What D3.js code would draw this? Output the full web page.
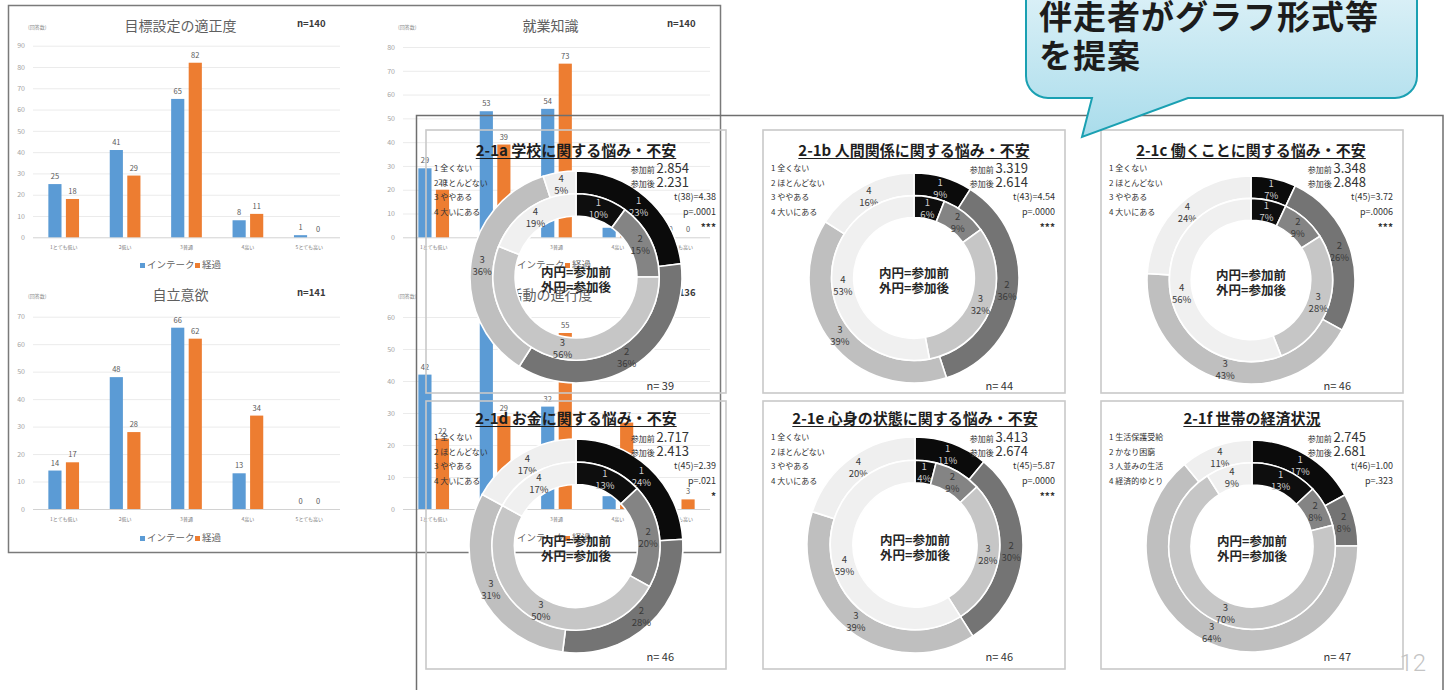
<!DOCTYPE html>
<html>
<head>
<meta charset="utf-8">
<script src="https://cdn.jsdelivr.net/npm/d3@7"></script>
<style>
  html, body { margin: 0; padding: 0; background: #fff; overflow: hidden; }
  svg { display: block; font-family: "Noto Sans CJK JP", "Noto Sans", sans-serif; }
</style>
</head>
<body>
<svg id="sheet" width="1445" height="690"></svg>
<script>
// ---------- bar charts: counts per answer category ----------
const barCategories = ["1とても低い", "2低い", "3普通", "4高い", "5とても高い"];
const barSeries = ["インテーク", "経過"];

const goalIntake = [25, 41, 65, 8, 1];
const goalLater  = [18, 29, 82, 11, 0];
const goalTicks  = [0, 10, 20, 30, 40, 50, 60, 70, 80, 90];

const knowIntake = [29, 53, 54, 4, 0];
const knowLater  = [20, 39, 73, 8, 0];
const knowTicks  = [0, 10, 20, 30, 40, 50, 60, 70, 80];

const selfIntake = [14, 48, 66, 13, 0];
const selfLater  = [17, 28, 62, 34, 0];
const selfTicks  = [0, 10, 20, 30, 40, 50, 60, 70];

const actIntake = [42, 58, 32, 4, 0];
const actLater  = [22, 29, 55, 27, 3];
const actTicks  = [0, 10, 20, 30, 40, 50, 60];

// ---------- doughnut charts: % before (inner) and after (outer) ----------
const worryLevels = ["1 全くない", "2 ほとんどない", "3 ややある", "4 大いにある"];
const moneyLevels = ["1 生活保護受給", "2 かなり困窮", "3 人並みの生活", "4 経済的ゆとり"];
const levelCodes  = ["1", "2", "3", "4"];

const donutTitles = [
  "2-1a 学校に関する悩み・不安",
  "2-1b 人間関係に関する悩み・不安",
  "2-1c 働くことに関する悩み・不安",
  "2-1d お金に関する悩み・不安",
  "2-1e 心身の状態に関する悩み・不安",
  "2-1f 世帯の経済状況"
];
const beforePct = [
  [10, 15, 56, 19],
  [6, 9, 32, 53],
  [7, 9, 28, 56],
  [13, 20, 50, 17],
  [4, 9, 28, 59],
  [13, 8, 70, 9]
];
const afterPct = [
  [23, 36, 36, 5],
  [9, 36, 39, 16],
  [7, 26, 43, 24],
  [24, 28, 31, 17],
  [11, 30, 39, 20],
  [17, 8, 64, 11]
];
const meanBefore = ["2.854", "3.319", "3.348", "2.717", "3.413", "2.745"];
const meanAfter  = ["2.231", "2.614", "2.848", "2.413", "2.674", "2.681"];
const tStats     = ["t(38)=4.38", "t(43)=4.54", "t(45)=3.72", "t(45)=2.39", "t(45)=5.87", "t(46)=1.00"];
const pValues    = ["p=.0001", "p=.0000", "p=.0006", "p=.021", "p=.0000", "p=.323"];
const stars      = ["***", "***", "***", "*", "***", ""];
const sampleN    = [39, 44, 46, 46, 46, 47];

const calloutLines = ["伴走者がグラフ形式等", "を提案"];
const pageNumber = "12";

// ---------- drawing ----------
const svg = d3.select("#sheet");
svg.append("rect").attr("width", 1445).attr("height", 690).attr("fill", "#fff");

const BLUE = "#5b9bd5", ORANGE = "#ed7d31";

const barCharts = [
  { title: "目標設定の適正度", n: "n=140", a: goalIntake, b: goalLater, ticks: goalTicks, dx: 0,   top: 45.7,  base: 237.3, titleY: 31,  legendY: 268 },
  { title: "就業知識",         n: "n=140", a: knowIntake, b: knowLater, ticks: knowTicks, dx: 370, top: 47,    base: 237.3, titleY: 31,  legendY: 268 },
  { title: "自立意欲",         n: "n=141", a: selfIntake, b: selfLater, ticks: selfTicks, dx: 0,   top: 316.7, base: 509,   titleY: 300, legendY: 541 },
  { title: "活動の進行度",     n: "n=136", a: actIntake,  b: actLater,  ticks: actTicks,  dx: 370, top: 317,   base: 509,   titleY: 300, legendY: 541 }
];

const barLayer = svg.append("g");

barCharts.forEach(c => {
  const g = barLayer.append("g");
  const x0 = 33 + c.dx, x1 = 340 + c.dx;
  const y = d3.scaleLinear().domain([0, d3.max(c.ticks)]).range([c.base, c.top]);
  const xb = d3.scaleBand().domain(barCategories).range([x0, x1]).paddingInner(0.5).paddingOuter(0.25);
  const xs = d3.scaleBand().domain(barSeries).range([0, xb.bandwidth()]).paddingInner(0.25);

  // value axis with gridlines
  const ya = g.append("g").attr("transform", `translate(${x0},0)`)
    .call(d3.axisLeft(y).tickValues(c.ticks).tickSize(-(x1 - x0)).tickPadding(8));
  ya.select(".domain").remove();
  ya.selectAll(".tick line").attr("stroke", d => d === 0 ? "#d2d2d2" : "#ebebeb");
  ya.selectAll(".tick text").attr("fill", "#a3a3a3").attr("font-size", 7)
    .attr("font-family", "Noto Sans CJK JP");

  // category axis
  const xa = g.append("g").attr("transform", `translate(0,${c.base})`)
    .call(d3.axisBottom(xb).tickSize(0).tickPadding(8));
  xa.select(".domain").remove();
  xa.selectAll(".tick text").attr("fill", "#7a7a7a").attr("font-size", 5)
    .attr("font-family", "Noto Sans CJK JP");

  const rows = barCategories.map((cat, i) => ({ cat, vals: [c.a[i], c.b[i]] }));
  rows.forEach(r => {
    barSeries.forEach((s, si) => {
      const v = r.vals[si];
      const bx = xb(r.cat) + xs(s);
      g.append("rect")
        .attr("x", bx).attr("width", xs.bandwidth())
        .attr("y", y(v)).attr("height", y(0) - y(v))
        .attr("fill", si === 0 ? BLUE : ORANGE);
      g.append("text")
        .attr("x", bx + xs.bandwidth() / 2).attr("y", y(v) - 5)
        .attr("text-anchor", "middle").attr("font-size", 7.5).attr("fill", "#595959")
        .text(v);
    });
  });

  // title, n, unit
  g.append("text").attr("x", (x0 + x1) / 2 - 6).attr("y", c.titleY)
    .attr("text-anchor", "middle").attr("font-size", 14).attr("fill", "#5f5f5f").text(c.title);
  g.append("text").attr("x", 297 + c.dx).attr("y", c.titleY - 4)
    .attr("font-size", 9.5).attr("font-weight", 700).attr("fill", "#3a3a3a").text(c.n);
  g.append("text").attr("x", 28 + c.dx).attr("y", c.titleY - 2)
    .attr("font-size", 5).attr("fill", "#8a8a8a").text("(回答数)");

  // legend
  const lg = g.append("g").attr("transform", `translate(${140 + c.dx},${c.legendY})`);
  lg.append("rect").attr("x", 0).attr("y", -5).attr("width", 5).attr("height", 5).attr("fill", BLUE);
  lg.append("text").attr("x", 7).attr("y", 0).attr("font-size", 9.5).attr("fill", "#5f5f5f").text(barSeries[0]);
  lg.append("rect").attr("x", 55).attr("y", -5).attr("width", 5).attr("height", 5).attr("fill", ORANGE);
  lg.append("text").attr("x", 62).attr("y", 0).attr("font-size", 9.5).attr("fill", "#5f5f5f").text(barSeries[1]);
});

barLayer.append("rect").attr("x", 8.5).attr("y", 5.5).attr("width", 712).attr("height", 547)
  .attr("fill", "none").attr("stroke", "#7a7a7a").attr("stroke-width", 1.5);

// ---------- doughnut sheet ----------
const sheet = svg.append("g");
sheet.append("path").attr("d", "M416.5,690 V115.5 H1443 V690")
  .attr("fill", "none").attr("stroke", "#6f6f6f").attr("stroke-width", 1.5);

const panels = [
  { x: 426, y: 130, w: 300, h: 263, cx: 576,  cy: 277, r: 106, ty: 156, ly: 171, ny: 390 },
  { x: 763, y: 130, w: 302, h: 263, cx: 914,  cy: 278, r: 105, ty: 156, ly: 171, ny: 390 },
  { x: 1101, y: 130, w: 302, h: 263, cx: 1251, cy: 280, r: 104, ty: 156, ly: 171, ny: 390 },
  { x: 426, y: 401, w: 300, h: 268, cx: 576,  cy: 546, r: 107, ty: 424, ly: 440, ny: 661 },
  { x: 763, y: 401, w: 302, h: 268, cx: 915,  cy: 545, r: 108, ty: 424, ly: 440, ny: 661 },
  { x: 1101, y: 401, w: 302, h: 268, cx: 1252, cy: 546, r: 106, ty: 424, ly: 440, ny: 661 }
];

const innerFill = ["#0e0e0e", "#848484", "#c6c6c6", "#f0f0f0"];
const outerFill = ["#0b0b0b", "#747474", "#bfbfbf", "#efefef"];
const pie = d3.pie().sort(null).value(d => d);

panels.forEach((p, k) => {
  const g = sheet.append("g");
  g.append("rect").attr("x", p.x).attr("y", p.y).attr("width", p.w).attr("height", p.h)
    .attr("fill", "none").attr("stroke", "#c9c9c9").attr("stroke-width", 1.6);

  const rHole = p.r * 0.575, rMid = p.r * 0.785;
  const arcIn = d3.arc().innerRadius(rHole).outerRadius(rMid);
  const arcOut = d3.arc().innerRadius(rMid).outerRadius(p.r);
  const dg = g.append("g").attr("transform", `translate(${p.cx},${p.cy})`);

  [[afterPct[k], arcOut, outerFill], [beforePct[k], arcIn, innerFill]].forEach(([vals, arc, fills]) => {
    const slices = pie(vals);
    dg.selectAll(null).data(slices).join("path")
      .attr("d", arc).attr("fill", (d, i) => fills[i])
      .attr("stroke", "#fff").attr("stroke-width", 1.6);
    const lab = dg.selectAll(null).data(slices).join("text")
      .attr("transform", d => `translate(${arc.centroid(d)})`)
      .attr("text-anchor", "middle").attr("font-size", 9.5)
      .attr("fill", (d, i) => i === 0 ? "#cfcfcf" : "#3a3a3a");
    lab.append("tspan").attr("x", 0).attr("y", -2).text((d, i) => levelCodes[i]);
    lab.append("tspan").attr("x", 0).attr("y", 10).text(d => d.data + "%");
  });

  // centre caption
  dg.append("text").attr("y", 0).attr("text-anchor", "middle").attr("font-size", 12.5)
    .attr("font-weight", 700).attr("fill", "#262626").text("内円=参加前");
  dg.append("text").attr("y", 15).attr("text-anchor", "middle").attr("font-size", 12.5)
    .attr("font-weight", 700).attr("fill", "#262626").text("外円=参加後");

  // title with underline
  const t = g.append("text").attr("x", p.cx).attr("y", p.ty).attr("text-anchor", "middle")
    .attr("font-size", 15).attr("font-weight", 700).attr("fill", "#1e1e1e").text(donutTitles[k]);
  const bb = t.node().getBBox();
  g.append("line").attr("x1", bb.x).attr("x2", bb.x + bb.width)
    .attr("y1", p.ty + 2.5).attr("y2", p.ty + 2.5).attr("stroke", "#1e1e1e").attr("stroke-width", 1);

  // answer legend
  const levels = k === 5 ? moneyLevels : worryLevels;
  levels.forEach((s, i) => {
    g.append("text").attr("x", p.x + 8).attr("y", p.ly + i * 14.6)
      .attr("font-size", 8).attr("fill", "#333").text(s);
  });

  // statistics
  const rx = p.x + p.w - 37;
  [["参加前", meanBefore[k]], ["参加後", meanAfter[k]]].forEach(([lbl, val], i) => {
    const tx = g.append("text").attr("x", rx).attr("y", p.ly + 1.5 + i * 14.6)
      .attr("text-anchor", "end").attr("fill", "#333");
    tx.append("tspan").attr("font-size", 8).text(lbl + " ");
    tx.append("tspan").attr("font-size", 13).text(val);
  });
  const rx2 = p.x + p.w - 10;
  [tStats[k], pValues[k]].forEach((s, i) => {
    g.append("text").attr("x", rx2).attr("y", p.ly + 29.2 + i * 14.6)
      .attr("text-anchor", "end").attr("font-size", 9).attr("fill", "#333").text(s);
  });
  g.append("text").attr("x", rx2).attr("y", p.ly + 60).attr("text-anchor", "end")
    .attr("font-size", 10).attr("font-weight", 700).attr("fill", "#333").text(stars[k]);

  g.append("text").attr("x", p.x + p.w - 52).attr("y", p.ny).attr("text-anchor", "end")
    .attr("font-size", 11).attr("fill", "#333").text("n= " + sampleN[k]);
});

// ---------- speech bubble ----------
const defs = svg.append("defs");
const grad = defs.append("linearGradient").attr("id", "bubbleFill")
  .attr("x1", 0).attr("y1", 0).attr("x2", 0).attr("y2", 1);
grad.append("stop").attr("offset", "0%").attr("stop-color", "#dff2f8");
grad.append("stop").attr("offset", "100%").attr("stop-color", "#a9dceb");

const bubblePath = [
  "M1026,-20", "H1417", "V76", "A22,22 0 0 1 1395,98",
  "H1188", "L1082,137", "L1092,98", "H1048",
  "A22,22 0 0 1 1026,76", "Z"
].join(" ");
svg.append("path").attr("d", bubblePath).attr("fill", "url(#bubbleFill)")
  .attr("stroke", "#1aa0b2").attr("stroke-width", 2);

calloutLines.forEach((s, i) => {
  svg.append("text").attr("x", 1039).attr("y", 29 + i * 39)
    .attr("font-size", 33).attr("font-weight", 700).attr("fill", "#1c1c1c")
    .attr("letter-spacing", 1).text(s);
});

svg.append("text").attr("x", 1426).attr("y", 671).attr("text-anchor", "end")
  .attr("font-family", "Roboto").attr("font-weight", 300).attr("font-size", 24)
  .attr("fill", "#c4c4c4").text(pageNumber);
</script>
</body>
</html>
